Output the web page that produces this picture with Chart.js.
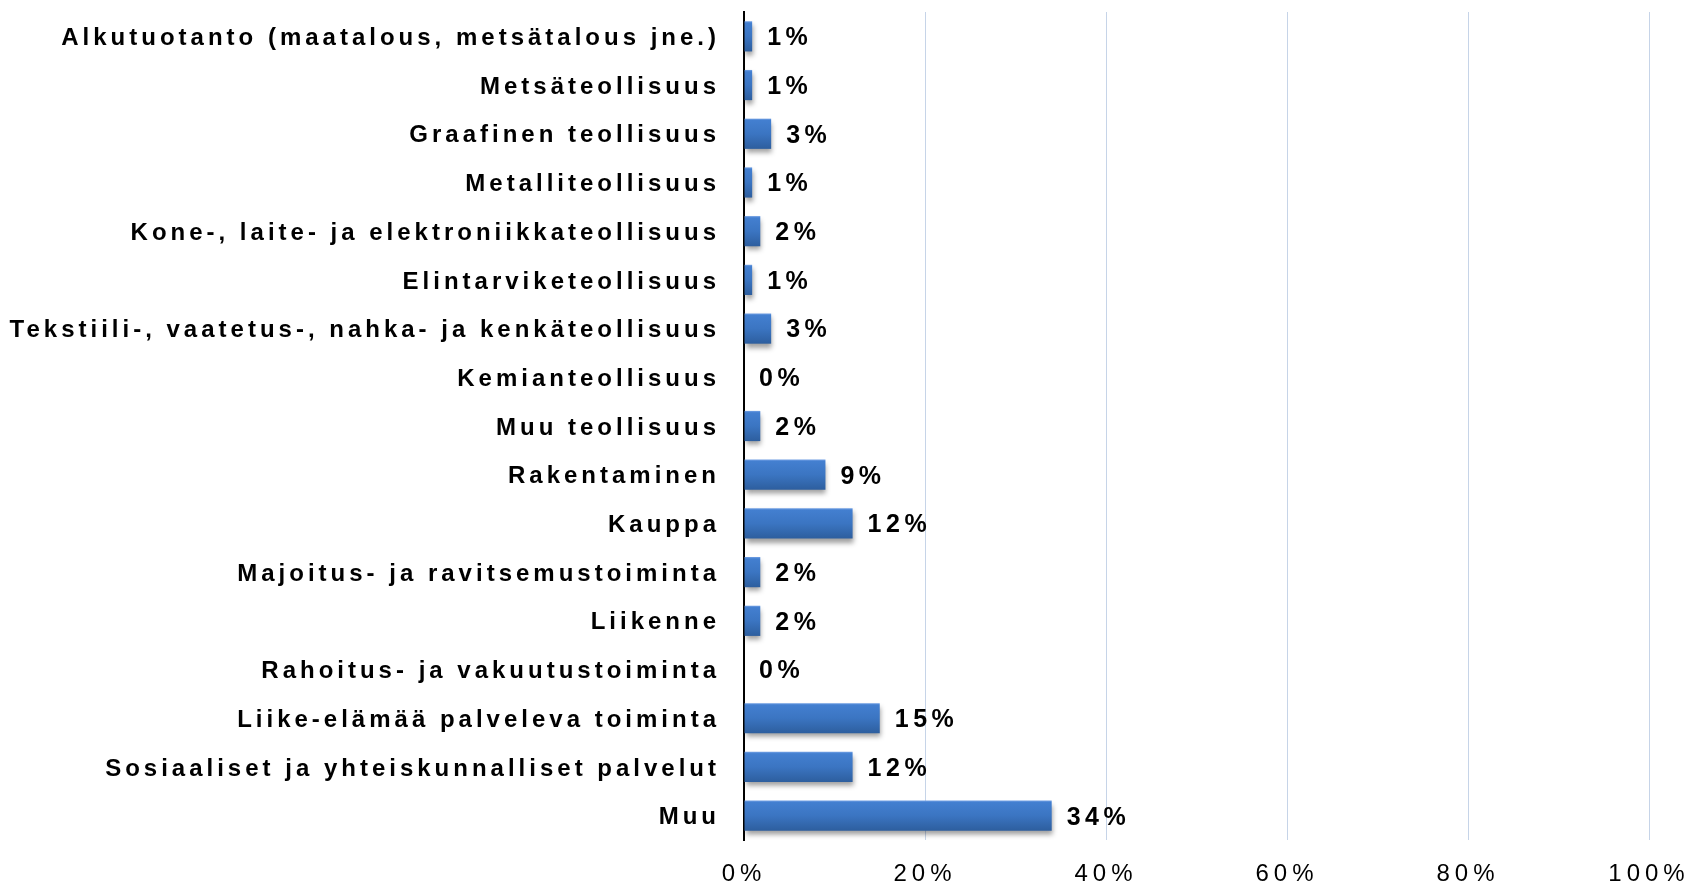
<!DOCTYPE html>
<html>
<head>
<meta charset="utf-8">
<script src="https://cdn.jsdelivr.net/npm/chart.js@4/dist/chart.umd.min.js"></script>
<style>
  html, body { margin: 0; padding: 0; background: #ffffff; }
  #wrap { width: 1691px; height: 886px; }
</style>
</head>
<body>
<div id="wrap"><canvas id="c" width="1691" height="886"></canvas></div>
<script>
const categories = [
  "Alkutuotanto (maatalous, metsätalous jne.)",
  "Metsäteollisuus",
  "Graafinen teollisuus",
  "Metalliteollisuus",
  "Kone-, laite- ja elektroniikkateollisuus",
  "Elintarviketeollisuus",
  "Tekstiili-, vaatetus-, nahka- ja kenkäteollisuus",
  "Kemianteollisuus",
  "Muu teollisuus",
  "Rakentaminen",
  "Kauppa",
  "Majoitus- ja ravitsemustoiminta",
  "Liikenne",
  "Rahoitus- ja vakuutustoiminta",
  "Liike-elämää palveleva toiminta",
  "Sosiaaliset ja yhteiskunnalliset palvelut",
  "Muu"
];
const shares = [0.9, 0.9, 3, 0.9, 1.8, 0.9, 3, 0, 1.8, 9, 12, 1.8, 1.8, 0, 15, 12, 34];
const xTickValues = [0, 20, 40, 60, 80, 100];

const FONT = "'Liberation Sans', Arial, sans-serif";
const CAT_SPACING = '4px';
const TICK_SPACING = '5px';
const VAL_SPACING = '4.5px';
const BAR_PCT = 0.62;

const shadowAndLabels = {
  id: 'shadowAndLabels',
  beforeDraw(chart) {
    chart.ctx.setTransform(1, 0, 0, 1, 0, 0);
    chart.ctx.letterSpacing = TICK_SPACING;
  },
  beforeDatasetsDraw(chart) {
    const ctx = chart.ctx;
    ctx.save();
    ctx.shadowColor = 'rgba(0,0,0,0.38)';
    ctx.shadowBlur = 5;
    ctx.shadowOffsetX = 1;
    ctx.shadowOffsetY = 4;
  },
  afterDatasetsDraw(chart) {
    const ctx = chart.ctx;
    ctx.restore();
    const meta = chart.getDatasetMeta(0);
    ctx.save();
    ctx.letterSpacing = VAL_SPACING;
    ctx.font = "bold 25px " + FONT;
    ctx.fillStyle = '#000';
    ctx.textAlign = 'left';
    ctx.textBaseline = 'middle';
    meta.data.forEach((bar, i) => {
      const p = bar.getProps(['x', 'y'], true);
      ctx.fillText(Math.round(shares[i]) + '%', p.x + 15, p.y + 2);
    });
    ctx.restore();
    ctx.letterSpacing = CAT_SPACING;
    ctx.translate(0, 2);
  },
  afterDraw(chart) {
    chart.ctx.setTransform(1, 0, 0, 1, 0, 0);
  }
};

new Chart(document.getElementById('c'), {
  type: 'bar',
  data: {
    labels: categories,
    datasets: [{
      data: shares,
      barPercentage: 1,
      categoryPercentage: BAR_PCT,
      borderWidth: 0,
      backgroundColor: (c) => {
        const ch = c.chart;
        const ys = ch.scales && ch.scales.y;
        if (!ys || c.dataIndex === undefined || !isFinite(ys.height)) return '#3a74c0';
        const cy = ys.getPixelForValue(c.dataIndex);
        const h = ys.height / categories.length * BAR_PCT;
        const g = ch.ctx.createLinearGradient(0, cy - h / 2, 0, cy + h / 2);
        g.addColorStop(0, '#72a0e4');
        g.addColorStop(0.06, '#437fd0');
        g.addColorStop(0.5, '#3b75c2');
        g.addColorStop(1, '#2d5e9e');
        return g;
      }
    }]
  },
  options: {
    indexAxis: 'y',
    responsive: false,
    devicePixelRatio: 1,
    animation: false,
    events: [],
    layout: { padding: { top: 12, right: 42, bottom: 0, left: 0 } },
    plugins: { legend: { display: false }, tooltip: { enabled: false } },
    scales: {
      x: {
        min: 0,
        max: 100,
        afterBuildTicks: (s) => { s.ticks = xTickValues.map(v => ({ value: v })); },
        afterFit: (s) => { s.height = 46; s.paddingLeft = 0; s.paddingRight = 0; },
        grid: {
          drawTicks: false,
          color: (c) => c.tick && c.tick.value === 0 ? 'rgba(0,0,0,0)' : '#c6d4e8',
          lineWidth: 1
        },
        border: { display: false },
        ticks: {
          padding: 20,
          color: '#000',
          font: { family: FONT, size: 24, weight: 'normal' },
          callback: (v) => v + '%'
        }
      },
      y: {
        afterFit: (s) => { s.width = 744; s.paddingTop = 0; s.paddingBottom = 0; },
        grid: { display: false, drawTicks: false },
        border: { display: true, color: '#000', width: 2, z: 0 },
        ticks: {
          z: 1,
          padding: 24,
          color: '#000',
          font: { family: FONT, size: 24, weight: 'bold' },
          autoSkip: false
        }
      }
    }
  },
  plugins: [shadowAndLabels]
});
</script>
</body>
</html>
